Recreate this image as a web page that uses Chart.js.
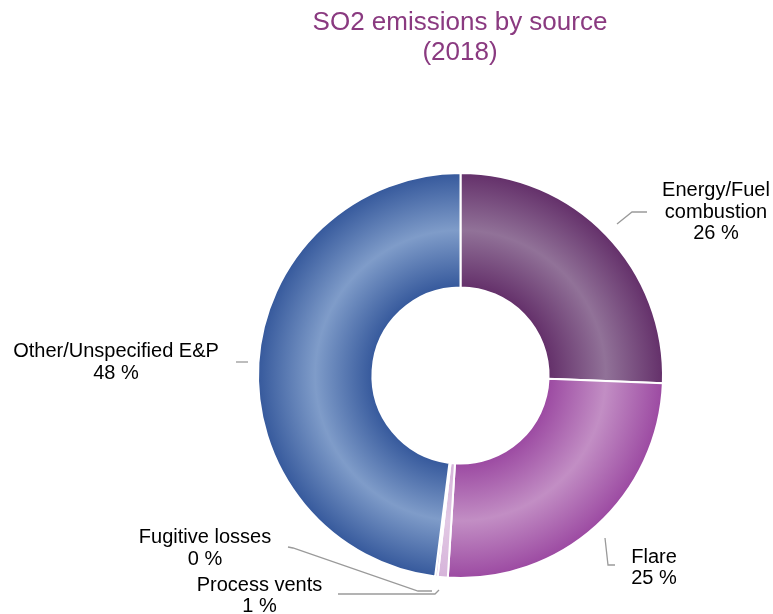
<!DOCTYPE html>
<html>
<head>
<meta charset="utf-8">
<script src="https://cdn.jsdelivr.net/npm/chart.js@4/dist/chart.umd.min.js"></script>
<style>
  html, body { margin: 0; padding: 0; background: #fff; }
  #wrap { width: 773px; height: 614px; position: relative; }
</style>
</head>
<body>
<div id="wrap"><canvas id="myChart" width="773" height="614"></canvas></div>
<script>
const sources = ["Energy/Fuel combustion", "Flare", "Process vents", "Fugitive losses", "Other/Unspecified E&P"];
const shares = [25.6, 25.4, 0.8, 0.2, 48.0];
const titleLines = ["SO2 emissions by source", "(2018)"];

const CUTOUT = 0.435;

// [edge, middle] shades for the radial banding of each ring segment
const shades = [
  ["#64306a", "#917298"],
  ["#9c4aa2", "#c28ec4"],
  ["#d6b4da", "#e2c8e4"],
  ["#d6b4da", "#e2c8e4"],
  ["#36599c", "#7f9cc9"],
];

// label text lines, anchor and leader polyline for each source
const labelSpots = [
  { lines: ["Energy/Fuel", "combustion"], x: 716, y: 190.5, leader: [[617, 224], [632, 212], [647, 212]] },
  { lines: ["Flare"], x: 654, y: 557, leader: [[605, 538], [608, 565], [615, 565]] },
  { lines: ["Process vents"], x: 259.5, y: 585, leader: [[338, 594], [435, 594], [439, 590]] },
  { lines: ["Fugitive losses"], x: 205, y: 537.5, leader: [[288, 547], [293, 548], [418, 591], [432, 591]] },
  { lines: ["Other/Unspecified E&P"], x: 116, y: 351.5, leader: [[236, 362], [248, 362]] },
];

const total = shares.reduce((a, b) => a + b, 0);

const bandFill = (context) => {
  const chart = context.chart;
  const s = shades[context.dataIndex];
  const area = chart.chartArea;
  if (!area) return s[0];
  const cx = (area.left + area.right) / 2;
  const cy = (area.top + area.bottom) / 2;
  const outer = (Math.min(area.right - area.left, area.bottom - area.top) - 2) / 2;
  const g = chart.ctx.createRadialGradient(cx, cy, outer * CUTOUT, cx, cy, outer);
  g.addColorStop(0, s[0]);
  g.addColorStop(0.5, s[1]);
  g.addColorStop(1, s[0]);
  return g;
};

const calloutPlugin = {
  id: "callouts",
  afterDatasetsDraw(chart) {
    const ctx = chart.ctx;
    ctx.save();
    ctx.textAlign = "center";
    ctx.textBaseline = "middle";

    ctx.font = "26px 'Liberation Sans', Arial, sans-serif";
    ctx.fillStyle = "#8a3a80";
    titleLines.forEach((t, k) => ctx.fillText(t, 460, 23 + k * 30));

    ctx.font = "20px 'Liberation Sans', Arial, sans-serif";
    labelSpots.forEach((spot, i) => {
      ctx.strokeStyle = "#9a9a9a";
      ctx.lineWidth = 1.3;
      ctx.beginPath();
      spot.leader.forEach((p, k) => (k ? ctx.lineTo(p[0], p[1]) : ctx.moveTo(p[0], p[1])));
      ctx.stroke();
      ctx.fillStyle = "#000";
      const lines = spot.lines.concat([Math.round(shares[i] / total * 100) + " %"]);
      lines.forEach((t, k) => ctx.fillText(t, spot.x, spot.y + k * 21.5));
    });
    ctx.restore();
  },
};

const data = {
  labels: sources,
  datasets: [
    {
      data: shares,
      backgroundColor: bandFill,
      borderColor: "#ffffff",
      borderWidth: 2,
      hoverOffset: 0,
    },
  ],
};

const config = {
  type: "doughnut",
  data: data,
  options: {
    responsive: false,
    animation: false,
    cutout: CUTOUT * 100 + "%",
    layout: { padding: { left: 257, right: 109, top: 172, bottom: 35 } },
    plugins: {
      legend: { display: false },
      tooltip: { enabled: false },
      title: { display: false },
    },
  },
  plugins: [calloutPlugin],
};

const myChart = new Chart(document.getElementById("myChart"), config);
</script>
</body>
</html>
